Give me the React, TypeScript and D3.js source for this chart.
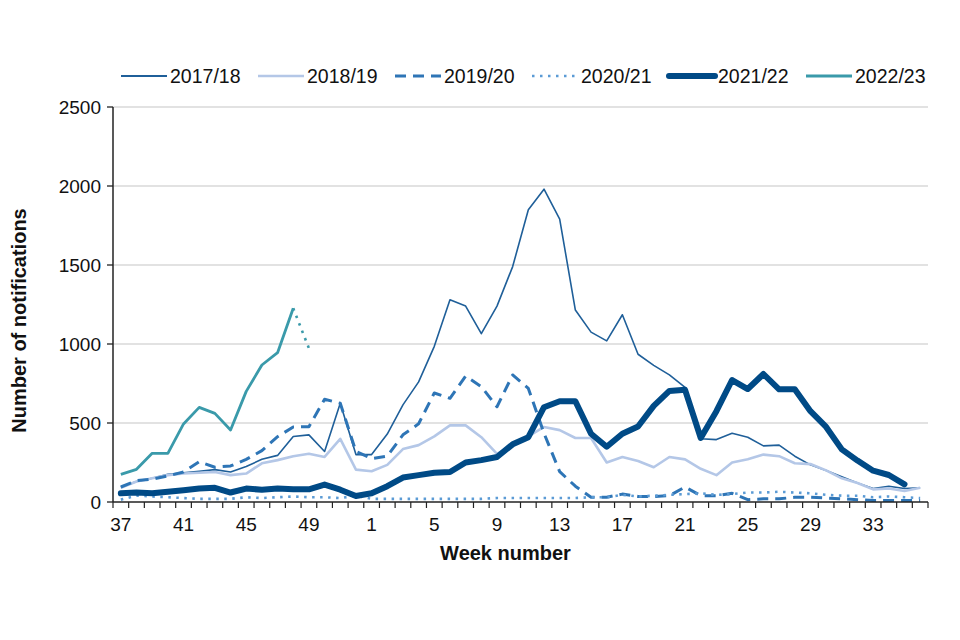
import React from "react";
import * as d3 from "d3";

const weeks: string[] = [
  "37","38","39","40","41","42","43","44","45","46","47","48","49","50","51","52",
  "1","2","3","4","5","6","7","8","9","10","11","12","13","14","15","16","17","18",
  "19","20","21","22","23","24","25","26","27","28","29","30","31","32","33","34","35","36",
];
const xTickLabels: string[] = ["37","41","45","49","1","5","9","13","17","21","25","29","33"];
const yTicks: number[] = [0, 500, 1000, 1500, 2000, 2500];

const s1718: number[] = [
  95,130,150,175,185,195,205,190,225,270,295,415,425,320,625,300,
  300,430,615,760,985,1280,1240,1065,1240,1490,1850,1980,1790,1215,1075,1020,1185,935,
  865,805,725,400,395,435,410,355,360,290,235,200,160,120,85,100,85,90,
];
const s1819: number[] = [
  90,130,150,170,180,185,190,170,180,245,265,290,305,285,400,205,
  195,235,335,360,415,485,485,410,305,360,415,475,455,405,405,250,285,260,
  220,285,270,210,170,250,270,300,290,245,240,200,150,120,80,85,70,90,
];
const s1920: number[] = [
  95,135,145,165,190,255,220,228,270,325,413,475,477,650,625,320,
  275,290,425,495,690,656,797,730,603,804,719,435,192,100,30,30,50,35,
  35,40,95,40,40,55,15,20,20,30,30,25,20,15,10,10,10,10,
];
const s2021: number[] = [
  15,40,35,30,25,20,20,20,30,25,30,35,30,30,25,40,
  20,20,20,20,20,20,20,20,25,25,25,25,25,25,30,30,45,35,
  40,45,50,55,45,50,60,60,65,60,55,45,40,40,30,35,30,25,
];
const s2122: number[] = [
  55,60,55,65,75,85,90,60,85,78,85,80,80,110,78,38,
  55,100,155,170,185,190,250,265,285,365,410,600,638,638,432,350,432,478,
  608,703,710,405,575,772,715,810,713,713,575,475,333,262,198,171,112,
];
const s2223: number[] = [175,207,308,308,494,599,561,456,700,867,945,1226];
const s2223ProvWeeks: string[] = ["48", "49"];
const s2223Prov: number[] = [1226, 973];

const seriesNames: string[] = ["2017/18","2018/19","2019/20","2020/21","2021/22","2022/23"];

const W = 960, H = 640;
const L = 113, R = 928, T = 107, B = 502;
const FONT = "'Liberation Sans', Arial, Helvetica, sans-serif";

type Style = { color: string; width: number; dash?: string; cap?: string };
const styles: Style[] = [
  { color: "#1f5f99", width: 1.6 },
  { color: "#b4c7e7", width: 2.6 },
  { color: "#2e75b6", width: 3, dash: "11 7" },
  { color: "#5b9bd5", width: 2.6, dash: "2.5 5.5" },
  { color: "#004a86", width: 6, cap: "round" },
  { color: "#3a9aaa", width: 2.8 },
];

export default function App() {
  const x = d3.scaleBand<string>().domain(weeks).range([L, R]).padding(0);
  const bw = x.bandwidth();
  const cx = (w: string) => (x(w) as number) + bw / 2;
  const y = d3.scaleLinear().domain([0, 2500]).range([B, T]);

  const mk = (vals: number[], ws: string[] = weeks) =>
    d3.line<number>()
      .x((_, i) => cx(ws[i]))
      .y((v) => y(v))(vals) as string;

  const allSeries = [s1718, s1819, s1920, s2021, s2122, s2223];

  const boundaries = weeks.map((w) => x(w) as number).concat([R]);

  const legendStep = 137;
  const legendX0 = 121;
  const legendY = 76;

  return (
    <svg width={W} height={H} style={{ position: "absolute", left: 0, top: 0, background: "#fff" }}
      fontFamily={FONT}>
      {yTicks.filter((t) => t > 0).map((t) => (
        <line key={"g" + t} x1={L} x2={R} y1={y(t)} y2={y(t)} stroke="#d9d9d9" strokeWidth={1.3} />
      ))}
      {allSeries.map((vals, i) => {
        const st = styles[i];
        return (
          <path key={"s" + i} d={mk(vals)} fill="none" stroke={st.color} strokeWidth={st.width}
            strokeDasharray={st.dash} strokeLinejoin="round" strokeLinecap={(st.cap as any) || "butt"} />
        );
      })}
      <path d={mk(s2223Prov, s2223ProvWeeks)} fill="none" stroke={styles[5].color} strokeWidth={2.6}
        strokeDasharray="2.5 5.5" />
      <line x1={L} x2={L} y1={T} y2={B} stroke="#222" strokeWidth={1.5} />
      {yTicks.map((t) => (
        <g key={"yt" + t}>
          <line x1={L - 6} x2={L} y1={y(t)} y2={y(t)} stroke="#222" strokeWidth={1.3} />
          <text x={L - 12} y={y(t)} dy="0.36em" textAnchor="end" fontSize={19} fill="#111">{t}</text>
        </g>
      ))}
      <line x1={L} x2={R} y1={B} y2={B} stroke="#222" strokeWidth={1.5} />
      {boundaries.map((bx, i) => (
        <line key={"xt" + i} x1={bx} x2={bx} y1={B} y2={B + 6} stroke="#222" strokeWidth={1.2} />
      ))}
      {xTickLabels.map((w) => (
        <text key={"xl" + w} x={cx(w)} y={B + 29} textAnchor="middle" fontSize={19} fill="#111">{w}</text>
      ))}
      <text x={(L + R) / 2 - 15} y={560} textAnchor="middle" fontSize={20} fontWeight="bold" fill="#111">
        Week number
      </text>
      <text transform={`translate(26, ${(T + B) / 2 + 16}) rotate(-90)`} textAnchor="middle" fontSize={20}
        fontWeight="bold" fill="#111">
        Number of notifications
      </text>
      {seriesNames.map((name, i) => {
        const st = styles[i];
        const lx = legendX0 + i * legendStep;
        return (
          <g key={"lg" + i}>
            <line x1={lx} x2={lx + 46} y1={legendY} y2={legendY} stroke={st.color}
              strokeWidth={st.width === 6 ? 6 : Math.max(st.width, 2)} strokeDasharray={st.dash}
              strokeLinecap={i === 4 ? "round" : "butt"} />
            <text x={lx + 49} y={legendY} dy="0.36em" fontSize={19.5} fill="#111">{name}</text>
          </g>
        );
      })}
    </svg>
  );
}
